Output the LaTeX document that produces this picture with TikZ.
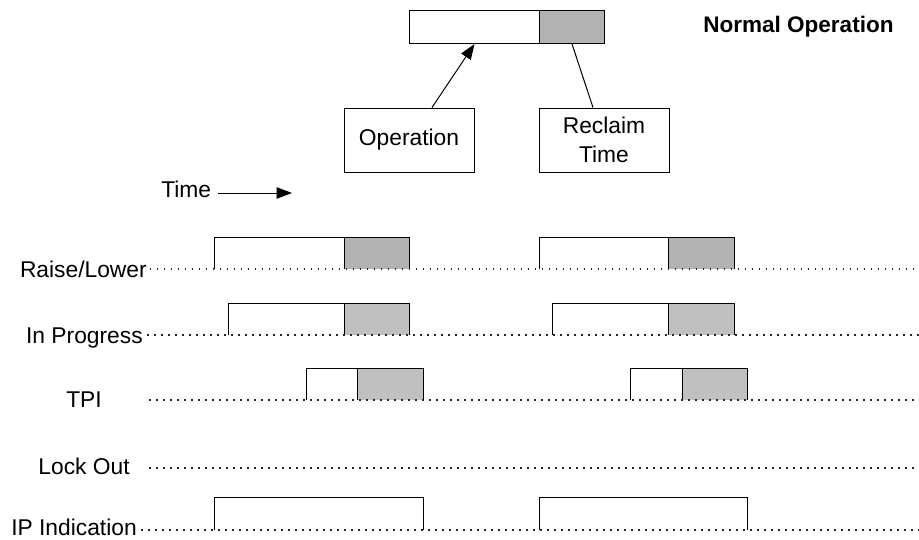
\documentclass[tikz,border=0pt]{standalone}
\usepackage{fontspec}
\setmainfont{Liberation Sans}
\usetikzlibrary{arrows.meta}
\definecolor{gA}{HTML}{B3B3B3}
\definecolor{gB}{HTML}{C0C0C0}
\newcommand{\tbar}[6]{%
  \fill[white] (#1,#4) rectangle (#2,#5);
  \fill[#6] (#2,#4) rectangle (#3,#5);
  \draw[edge] (#1,#5) -- (#1,#4) -- (#3,#4) -- (#3,#5);
  \draw[edge] (#2,#4) -- (#2,#5);}
\newcommand{\ipbar}[4]{%
  \draw[edge] (#1,#4) -- (#1,#3) -- (#2,#3) -- (#2,#4);}
\begin{document}
\begin{tikzpicture}[x=0.75pt,y=-0.75pt,
  font=\fontsize{17.1}{20}\selectfont,
  edge/.style={line width=0.75pt, draw=black},
  dots/.style={line width=1.1pt, dash pattern=on 1.3pt off 3.95pt, draw=black!85},
  lbl/.style={inner sep=0pt, anchor=base east},
  boxnode/.style={draw, line width=0.75pt, fill=white, inner sep=0pt,
    minimum width=97.5pt, minimum height=48pt, align=center},
  arr/.style={line width=0.75pt, -{Triangle[length=11.5pt,width=8.5pt]}}]
\useasboundingbox (0,0) rectangle (919,539);

% top bar
\node[draw, line width=0.75pt, fill=white, inner sep=0pt, minimum width=97.5pt,
  minimum height=24.75pt, anchor=north west] (opbar) at (409,10) {};
\node[draw, line width=0.75pt, fill=gA, inner sep=0pt, minimum width=48.75pt,
  minimum height=24.75pt, anchor=north west] (rcbar) at (539,10) {};

\node[boxnode] (opbox) at (409,140) {Operation};
\node[boxnode] (rcbox) at (604,140) {Reclaim\\[2pt]Time};

\draw[arr] ([xshift=17.25pt]opbox.north) -- (opbar.south);
\draw[edge] ([xshift=-8.25pt]rcbox.north) -- (rcbar.south);

\node[inner sep=0pt, anchor=base west, font=\fontsize{16.9}{20}\selectfont\bfseries]
  (title) at (703,32) {Normal Operation};

% time
\node[inner sep=0pt, anchor=base west] (time) at (161,197) {Time};
\coordinate (tend) at (292,193);
\draw[arr] ([xshift=5.25pt,yshift=3pt]time.base east) -- (tend);

% row labels
\node[lbl] (rl) at (147,277) {Raise/Lower};
\node[lbl] (ip) at (143,343) {In Progress};
\node[lbl] (tpi) at (102,407) {TPI};
\node[lbl] (lo) at (130,474) {Lock Out};
\node[lbl] (ipi) at (137,535) {IP Indication};

% bars
\tbar{214}{344}{409}{237}{269}{gA}
\tbar{539}{668}{734}{237}{269}{gA}
\tbar{228}{344}{409}{303}{335}{gB}
\tbar{552}{668}{734}{303}{335}{gB}
\tbar{306}{357}{423}{368}{400}{gB}
\tbar{630}{682}{747}{368}{400}{gB}
\ipbar{214}{423}{497}{530}
\ipbar{539}{747}{497}{530}

% dotted lines
\coordinate (e1) at (919,269);
\coordinate (e2) at (919,335);
\coordinate (e3) at (919,400);
\coordinate (e4) at (919,468);
\coordinate (e5) at (919,530);
\draw[dots] ([xshift=2pt]rl.east |- e1) -- (e1);
\draw[dots] ([xshift=3pt]ip.east |- e2) -- (e2);
\draw[dots] (149,400) -- (e3);
\draw[dots] (149,468) -- (e4);
\draw[dots] ([xshift=3pt]ipi.east |- e5) -- (e5);
\end{tikzpicture}
\end{document}
